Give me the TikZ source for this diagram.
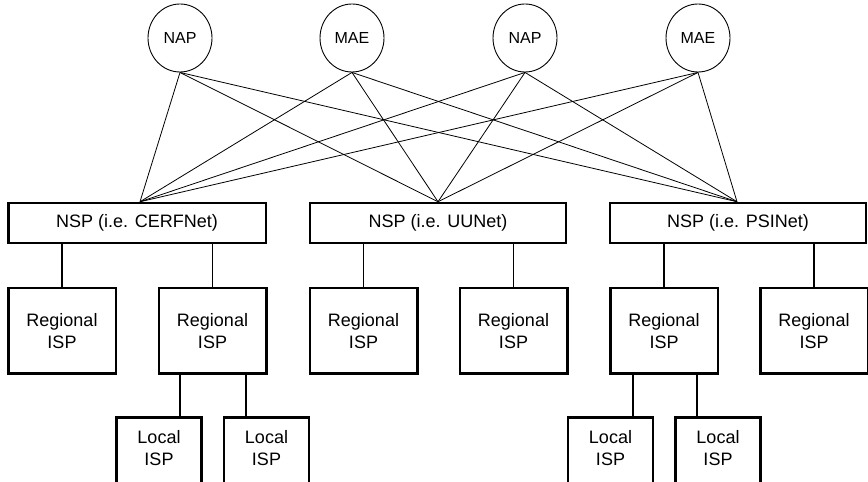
\documentclass[tikz,border=0pt]{standalone}
\usepackage{fontspec}
\setmainfont{Liberation Sans}
\usetikzlibrary{shapes.geometric}
\begin{document}
\begin{tikzpicture}[x=1pt,y=1pt,
  hub/.style={draw, ellipse, minimum width=64pt, minimum height=68pt, inner sep=0pt, line width=0.9pt, font=\fontsize{16}{19}\selectfont},
  nspbox/.style={draw, rectangle, line width=2.5pt, minimum width=256pt, minimum height=40pt, inner sep=0pt, font=\fontsize{18}{22}\selectfont},
  regbox/.style={draw, rectangle, line width=2.5pt, minimum width=107.5pt, minimum height=85.5pt, inner sep=0pt, align=center, font=\fontsize{18}{22.5}\selectfont},
  locbox/.style={draw, rectangle, line width=2.5pt, minimum width=85pt, minimum height=90pt, inner sep=0pt, anchor=north},
  loctext/.style={align=center, inner sep=0pt, font=\fontsize{18}{22}\selectfont},
  link/.style={line width=0.8pt},
  stem/.style={line width=1.2pt}]
\useasboundingbox (0,0) rectangle (868,482);
\clip (0,0) rectangle (868,482);
% hubs
\node[hub] (C1) at (180,444) {NAP};
\node[hub] (C2) at (352,444) {MAE};
\node[hub] (C3) at (525,444) {NAP};
\node[hub] (C4) at (698,444) {MAE};
% NSPs
\node[nspbox, minimum width=257.5pt] (N1) at (137,259) {NSP (i.e. CERFNet)};
\node[nspbox] (N2) at (438,259) {NSP (i.e. UUNet)};
\node[nspbox] (N3) at (738,259) {NSP (i.e. PSINet)};
% regional
\node[regbox] (R1) at (62,151) {Regional\\ISP};
\node[regbox] (R2) at (212.5,151) {Regional\\ISP};
\node[regbox] (R3) at (363.5,151) {Regional\\ISP};
\node[regbox] (R4) at (513.5,151) {Regional\\ISP};
\node[regbox] (R5) at (664,151) {Regional\\ISP};
\node[regbox] (R6) at (814,151) {Regional\\ISP};
% local
\node[locbox] (L1) at (159,65.5) {};
\node[locbox] (L2) at (266.5,65.5) {};
\node[locbox] (L3) at (610.5,65.5) {};
\node[locbox] (L4) at (718,65.5) {};
\node[loctext] (L1t) at ([yshift=-32pt]L1.north) {Local\\ISP};
\node[loctext] (L2t) at ([yshift=-32pt]L2.north) {Local\\ISP};
\node[loctext] (L3t) at ([yshift=-32pt]L3.north) {Local\\ISP};
\node[loctext] (L4t) at ([yshift=-32pt]L4.north) {Local\\ISP};
% hub links
\foreach \c in {C1,C2,C3,C4}{
  \draw[link] (\c.south) -- ([xshift=3pt]N1.north);
  \draw[link] (\c.south) -- (N2.north);
  \draw[link] (\c.south) -- ([xshift=-1pt]N3.north);
}
% NSP to regional
\draw[stem] (R1.north) -- (R1.north |- N1.south);
\draw[stem] (R2.north) -- (R2.north |- N1.south);
\draw[stem] (R3.north) -- (R3.north |- N2.south);
\draw[stem] (R4.north) -- (R4.north |- N2.south);
\draw[stem] (R5.north) -- (R5.north |- N3.south);
\draw[stem] (R6.north) -- (R6.north |- N3.south);
% regional to local
\draw[stem] ([xshift=-32.5pt]R2.south) -- ([xshift=-32.5pt]R2.south |- L1.north);
\draw[stem] ([xshift=33.5pt]R2.south) -- ([xshift=33.5pt]R2.south |- L2.north);
\draw[stem] ([xshift=-31pt]R5.south) -- ([xshift=-31pt]R5.south |- L3.north);
\draw[stem] ([xshift=33pt]R5.south) -- ([xshift=33pt]R5.south |- L4.north);
\end{tikzpicture}
\end{document}
